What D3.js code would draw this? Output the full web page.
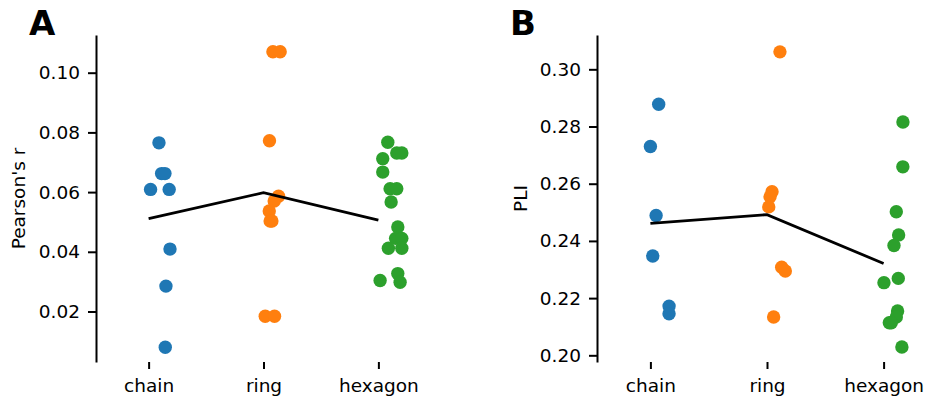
<!DOCTYPE html>
<html>
<head>
<meta charset="utf-8">
<script src="https://cdn.jsdelivr.net/npm/d3@7"></script>
<style>
  body { margin: 0; background: #fff; }
  svg { display: block; }
  svg text { font-family: "DejaVu Sans", sans-serif; }
</style>
</head>
<body>
<div id="chart"></div>
<script>

// categories and colours
const categories = ["chain", "ring", "hexagon"];
const colors = ["#1f77b4", "#ff7f0e", "#2ca02c"];

// panel A : Pearson's r (value, jitter offset in category units)
const pearsonChain   = [0.0765, 0.0662, 0.0662, 0.0609, 0.0609, 0.0409, 0.0285, 0.0080];
const pearsonChainJ  = [0.090, 0.113, 0.142, 0.017, 0.179, 0.186, 0.151, 0.145];
const pearsonRing    = [0.1070, 0.1070, 0.0772, 0.0586, 0.0570, 0.0537, 0.0503, 0.0503, 0.0184, 0.0184];
const pearsonRingJ   = [0.082, 0.145, 0.052, 0.131, 0.093, 0.050, 0.058, 0.073, 0.015, 0.096];
const pearsonHex     = [0.0767, 0.0731, 0.0731, 0.0712, 0.0667, 0.0611, 0.0611, 0.0567, 0.0483, 0.0445, 0.0445, 0.0412, 0.0412, 0.0327, 0.0304, 0.0298];
const pearsonHexJ    = [0.082, 0.160, 0.204, 0.038, 0.038, 0.102, 0.160, 0.111, 0.169, 0.150, 0.204, 0.087, 0.204, 0.169, 0.015, 0.189];
const pearsonMeans   = [0.0511, 0.0598, 0.0506];
const pearsonTicks   = [0.02, 0.04, 0.06, 0.08, 0.10];

// panel B : PLI
const pliChain   = [0.2878, 0.2730, 0.2489, 0.2347, 0.2172, 0.2145];
const pliChainJ  = [0.071, 0.000, 0.049, 0.020, 0.160, 0.160];
const pliRing    = [0.3061, 0.2572, 0.2554, 0.2519, 0.2308, 0.2295, 0.2134];
const pliRingJ   = [0.111, 0.043, 0.026, 0.015, 0.126, 0.157, 0.057];
const pliHex     = [0.2816, 0.2659, 0.2502, 0.2421, 0.2384, 0.2269, 0.2254, 0.2155, 0.2134, 0.2114, 0.2114, 0.2029];
const pliHexJ    = [0.166, 0.165, 0.109, 0.129, 0.089, 0.126, 0.003, 0.120, 0.109, 0.049, 0.066, 0.157];
const pliMeans   = [0.2461, 0.2492, 0.2321];
const pliTicks   = [0.20, 0.22, 0.24, 0.26, 0.28, 0.30];

const width = 931, height = 401;
const FONT = "DejaVu Sans";
const FS = 18.5;

const svg = d3.select("#chart").append("svg")
    .attr("width", width)
    .attr("height", height);

function drawPanel(opt) {
    let x = d3.scaleLinear().domain([-0.458, 2.458]).range([opt.left, opt.right]);
    let y = d3.scaleLinear().domain(opt.yDomain).range([362, 35]);

    let g = svg.append("g");

    // points
    opt.groups.forEach((grp, i) => {
        g.selectAll(null)
            .data(grp.values.map((v, k) => ({v: v, j: grp.jitter[k]})))
            .enter()
            .append("circle")
            .attr("cx", d => x(i + d.j))
            .attr("cy", d => y(d.v))
            .attr("r", 6.7)
            .attr("fill", colors[i]);
    });

    // mean line
    let line = d3.line()
        .x((d, i) => x(i))
        .y(d => y(d));
    g.append("path")
        .datum(opt.means)
        .attr("d", line)
        .attr("fill", "none")
        .attr("stroke", "black")
        .attr("stroke-width", 2.8);

    // y axis
    let yAxis = g.append("g")
        .attr("transform", `translate(${opt.left},0)`)
        .call(d3.axisLeft(y).tickValues(opt.ticks).tickFormat(d3.format(".2f")).tickSize(8).tickPadding(8).tickSizeOuter(0));
    yAxis.attr("font-family", FONT);
    yAxis.select(".domain").attr("stroke-width", 2);
    yAxis.selectAll(".tick line").attr("stroke-width", 2);
    yAxis.selectAll("text").attr("font-size", FS).attr("font-family", FONT).attr("fill", "#000");

    // x axis (ticks only, no spine)
    let xAxis = g.append("g")
        .attr("transform", "translate(0,362)")
        .call(d3.axisBottom(x).tickValues([0, 1, 2]).tickFormat(i => categories[i]).tickSize(7).tickPadding(10).tickSizeOuter(0));
    xAxis.attr("font-family", FONT);
    xAxis.select(".domain").remove();
    xAxis.selectAll(".tick line").attr("stroke-width", 2);
    xAxis.selectAll("text").attr("font-size", FS).attr("font-family", FONT).attr("fill", "#000");

    // y label
    g.append("text")
        .attr("transform", `translate(${opt.labelX},198.5) rotate(-90)`)
        .attr("text-anchor", "middle")
        .attr("font-family", FONT)
        .attr("font-size", FS)
        .text(opt.yLabel);

    // panel letter
    g.append("text")
        .attr("x", opt.letterX)
        .attr("y", 35)
        .attr("font-family", FONT)
        .attr("font-size", 34)
        .attr("font-weight", "bold")
        .text(opt.letter);
}

drawPanel({
    left: 96, right: 431,
    yDomain: [0.00308, 0.11263],
    ticks: pearsonTicks,
    groups: [
        {values: pearsonChain, jitter: pearsonChainJ},
        {values: pearsonRing, jitter: pearsonRingJ},
        {values: pearsonHex, jitter: pearsonHexJ}
    ],
    means: pearsonMeans,
    yLabel: "Pearson's r",
    labelX: 25,
    letter: "A",
    letterX: 29
});

drawPanel({
    left: 597, right: 937,
    yDomain: [0.19766, 0.3120],
    ticks: pliTicks,
    groups: [
        {values: pliChain, jitter: pliChainJ},
        {values: pliRing, jitter: pliRingJ},
        {values: pliHex, jitter: pliHexJ}
    ],
    means: pliMeans,
    yLabel: "PLI",
    labelX: 527,
    letter: "B",
    letterX: 510
});

</script>
</body>
</html>
